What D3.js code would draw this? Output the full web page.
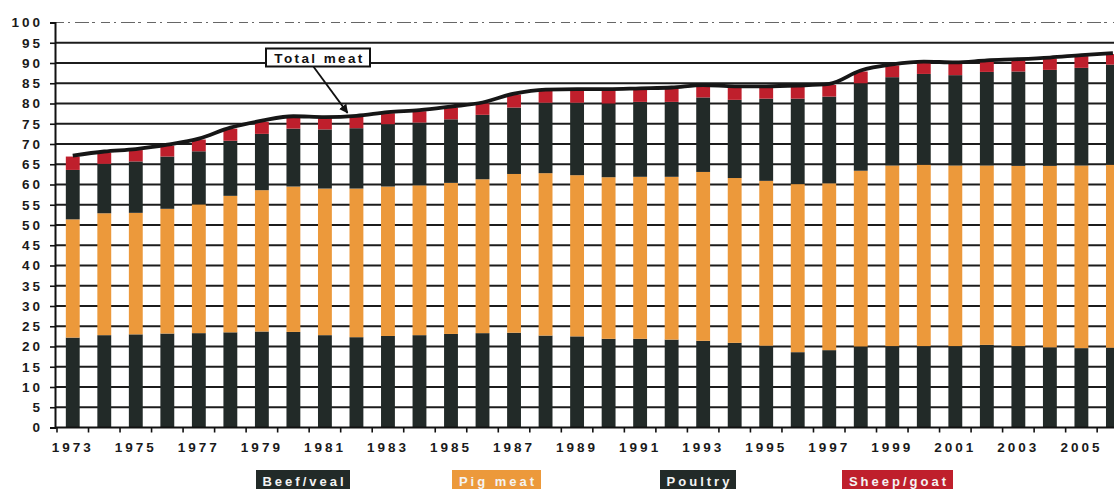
<!DOCTYPE html>
<html>
<head>
<meta charset="utf-8">
<script src="https://cdn.jsdelivr.net/npm/d3@7"></script>
<style>
  html, body { margin: 0; padding: 0; background: #fff; }
  svg { display: block; font-family: "Liberation Sans", Arial, sans-serif; }
</style>
</head>
<body>
<svg id="chart" width="1114" height="489"></svg>
<script>
// Meat consumption per head (kg), 1973-2006
const years = d3.range(1973, 2007);
const beefVeal  = [22.2,22.8,23.0,23.2,23.3,23.5,23.7,23.6,22.8,22.3,22.6,22.8,23.1,23.3,23.4,22.7,22.5,21.9,21.9,21.7,21.4,20.9,20.2,18.6,19.1,20.0,20.1,20.1,20.1,20.4,20.1,19.8,19.6,19.7];
const pigMeat   = [29.2,30.1,30.0,30.8,31.8,33.7,34.9,35.9,36.2,36.7,36.9,37.0,37.3,38.0,39.2,40.1,39.8,39.9,40.0,40.2,41.7,40.7,40.7,41.5,41.2,43.4,44.6,44.8,44.6,44.3,44.5,44.8,45.1,45.2];
const poultry   = [12.2,12.2,12.7,12.9,13.1,13.6,13.9,14.3,14.6,14.9,15.4,15.5,15.7,15.9,16.4,17.4,17.9,18.2,18.5,18.5,18.4,19.3,20.3,21.1,21.4,21.6,21.8,22.4,22.3,23.1,23.3,23.7,24.1,24.7];
const sheepGoat = [3.3,2.8,2.8,2.7,2.9,3.0,3.0,2.8,2.8,2.8,2.7,2.8,2.9,2.8,3.2,3.0,3.1,3.3,3.1,3.3,2.8,3.1,2.8,3.0,2.9,2.9,2.9,2.8,2.9,2.6,2.8,2.8,2.9,2.6];
const seriesNames = ["Beef/veal", "Pig meat", "Poultry", "Sheep/goat"];
const yTicks = d3.range(0, 101, 5);
const xLabelYears = years.filter(y => (y - 1973) % 2 === 0);

const colors = {
  "Beef/veal": "#222a28",
  "Pig meat": "#ec993b",
  "Poultry": "#222a28",
  "Sheep/goat": "#bf1f2c"
};

const rows = years.map((yr, i) => ({
  year: yr,
  "Beef/veal": beefVeal[i],
  "Pig meat": pigMeat[i],
  "Poultry": poultry[i],
  "Sheep/goat": sheepGoat[i]
}));

const svg = d3.select("#chart");
const axisX0 = 55, y0 = 427.5, yTop = 22.5;
const step = 31.52, bandStart = 57;

const x = d3.scaleBand()
  .domain(years)
  .range([bandStart, bandStart + step * years.length])
  .paddingInner(0.56)
  .paddingOuter(0.28);
const y = d3.scaleLinear().domain([0, 100]).range([y0, yTop]);

// horizontal grid (5..95 solid, 100 as a faint broken rule)
svg.append("g").selectAll("line")
  .data(yTicks.filter(t => t > 0 && t < 100))
  .join("line")
  .attr("x1", axisX0).attr("x2", 1114)
  .attr("y1", d => y(d)).attr("y2", d => y(d))
  .attr("stroke", "#1c1c1c").attr("stroke-width", 1.8);
svg.append("line")
  .attr("x1", axisX0).attr("x2", 1114)
  .attr("y1", y(100)).attr("y2", y(100))
  .attr("stroke", "#666").attr("stroke-width", 1)
  .attr("stroke-dasharray", "9 4 2 5 14 3 3 6");

// stacked bars
const stacked = d3.stack().keys(seriesNames)(rows);
svg.append("g").selectAll("g")
  .data(stacked)
  .join("g")
  .attr("fill", d => colors[d.key])
  .selectAll("rect")
  .data(d => d)
  .join("rect")
  .attr("x", d => x(d.data.year))
  .attr("width", x.bandwidth())
  .attr("y", d => y(d[1]))
  .attr("height", d => y(d[0]) - y(d[1]));

// y axis
const yAxis = d3.axisLeft(y).tickValues(yTicks).tickSize(5).tickPadding(7);
const gy = svg.append("g").attr("transform", `translate(${axisX0},0)`).call(yAxis);
gy.select(".domain").attr("stroke", "#111").attr("stroke-width", 2);
gy.selectAll(".tick line").attr("stroke", "#111").attr("stroke-width", 1.6);
gy.selectAll(".tick text")
  .attr("font-size", 13.5).attr("font-weight", "bold")
  .attr("letter-spacing", "3px").attr("fill", "#1a1a1a");

// x axis line and category boundary ticks
svg.append("line")
  .attr("x1", axisX0).attr("x2", 1114)
  .attr("y1", y0).attr("y2", y0)
  .attr("stroke", "#111").attr("stroke-width", 2);
svg.append("g").selectAll("line")
  .data(years)
  .join("line")
  .attr("x1", d => x(d) + x.bandwidth() / 2 - x.step() / 2)
  .attr("x2", d => x(d) + x.bandwidth() / 2 - x.step() / 2)
  .attr("y1", y0).attr("y2", y0 + 5)
  .attr("stroke", "#111").attr("stroke-width", 1.6);

const xAxis = d3.axisBottom(x).tickValues(xLabelYears).tickSize(0).tickPadding(15);
const gx = svg.append("g").attr("transform", `translate(0,${y0})`).call(xAxis);
gx.select(".domain").remove();
gx.selectAll(".tick text")
  .attr("font-size", 13.5).attr("font-weight", "bold")
  .attr("letter-spacing", "3px").attr("fill", "#1a1a1a");

// total meat line
const totals = rows.map(r => seriesNames.reduce((s, k) => s + r[k], 0));
const line = d3.line()
  .x((d, i) => x(years[i]) + x.bandwidth() / 2)
  .y(d => y(d) - 1)
  .curve(d3.curveMonotoneX);
svg.append("path")
  .datum(totals)
  .attr("d", line)
  .attr("fill", "none")
  .attr("stroke", "#161616")
  .attr("stroke-width", 3.8)
  .attr("stroke-linejoin", "round");

// callout for the total line
const defs = svg.append("defs");
defs.append("marker")
  .attr("id", "arrowHead")
  .attr("viewBox", "0 0 10 10")
  .attr("refX", 9).attr("refY", 5)
  .attr("markerWidth", 5).attr("markerHeight", 5)
  .attr("orient", "auto")
  .append("path").attr("d", "M0,0 L10,5 L0,10 Z").attr("fill", "#111");

const calloutYear = 1982;
const tipX = x(calloutYear) - 2;
const tipY = y(totals[years.indexOf(calloutYear)]) - 4;
svg.append("line")
  .attr("x1", 313).attr("y1", 66)
  .attr("x2", tipX).attr("y2", tipY)
  .attr("stroke", "#111").attr("stroke-width", 1.8)
  .attr("marker-end", "url(#arrowHead)");
svg.append("rect")
  .attr("x", 266).attr("y", 48.5)
  .attr("width", 104).attr("height", 18)
  .attr("fill", "#fff").attr("stroke", "#111").attr("stroke-width", 2);
svg.append("text")
  .attr("x", 319.5).attr("y", 62.5)
  .attr("text-anchor", "middle")
  .attr("font-size", 13.5).attr("font-weight", "bold")
  .attr("letter-spacing", "2.4px").attr("fill", "#111")
  .text("Total meat");

// legend
const legendBoxes = [
  { name: "Beef/veal", x: 256, w: 94 },
  { name: "Pig meat", x: 452, w: 89 },
  { name: "Poultry", x: 660, w: 76 },
  { name: "Sheep/goat", x: 842, w: 111 }
];
const lg = svg.append("g").selectAll("g").data(legendBoxes).join("g");
lg.append("rect")
  .attr("x", d => d.x).attr("y", 470)
  .attr("width", d => d.w).attr("height", 22)
  .attr("fill", d => colors[d.name]);
lg.append("text")
  .attr("x", d => d.x + d.w / 2 + 1.5).attr("y", 485.5)
  .attr("text-anchor", "middle")
  .attr("font-size", 13).attr("font-weight", "bold")
  .attr("letter-spacing", "3px").attr("fill", "#f4f4f4")
  .text(d => d.name);
</script>
</body>
</html>
